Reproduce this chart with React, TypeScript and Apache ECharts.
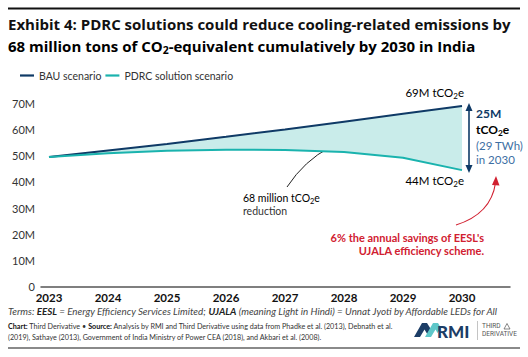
import React, { useEffect, useRef } from "react";
import * as echarts from "echarts";

const years = [2023, 2024, 2025, 2026, 2027, 2028, 2029, 2030];
const bauValues = [49.5, 52, 54.5, 57.2, 60, 63, 66, 69];
const pdrcValues = [49.5, 50.9, 51.9, 52.3, 52.2, 51.4, 49.2, 44.5];
const yTicks = [0, 10, 20, 30, 40, 50, 60, 70];
const seriesNames = ["BAU scenario", "PDRC solution scenario"];

const NAVY = "#0f3a66";
const TEAL = "#1ab3ae";
const FILL = "#c9ecea";
const RED = "#d12030";
const BODY = "Lato, 'Noto Sans', sans-serif";
const TITLE = "'Open Sans', Lato, sans-serif";

function co2Rich(size: number, color: string, weight: string, family: string = BODY) {
  return {
    n: { fontSize: size, fontFamily: family, color, fontWeight: weight, lineHeight: size + 4 },
    s: {
      fontSize: size * 0.7,
      fontFamily: family,
      color,
      fontWeight: weight,
      lineHeight: size * 0.7,
      verticalAlign: "bottom",
    },
  };
}

export default function App() {
  const ref = useRef<HTMLDivElement>(null);
  useEffect(() => {
    if (!ref.current) return;
    const chart = echarts.init(ref.current, null, { renderer: "svg" });
    const bau = years.map((y, i) => [y, bauValues[i]]);
    const pdrc = years.map((y, i) => [y, pdrcValues[i]]);
    const band = years.map((y, i) => [y, bauValues[i], pdrcValues[i]]);

    const graphic: any[] = [
      { type: "line", shape: { x1: 8, y1: 8.5, x2: 520, y2: 8.5 }, style: { stroke: "#111", lineWidth: 2 } },
      {
        type: "text",
        x: 8,
        y: 24,
        style: {
          text: "Exhibit 4: PDRC solutions could reduce cooling-related emissions by",
          fontSize: 15,
          fontWeight: "bold",
          fontFamily: TITLE,
          fill: "#111",
          verticalAlign: "middle",
        },
      },
      {
        type: "text",
        x: 8,
        y: 46,
        style: {
          text: "{n|68 million tons of CO}{s|2}{n|-equivalent cumulatively by 2030 in India}",
          verticalAlign: "middle",
          rich: co2Rich(15, "#111", "bold", TITLE),
        },
      },
      {
        type: "text",
        x: 464,
        y: 92,
        style: { text: "{n|69M tCO}{s|2}{n|e}", align: "right", verticalAlign: "middle", rich: co2Rich(11.5, "#222", "normal") },
      },
      {
        type: "text",
        x: 464,
        y: 180,
        style: { text: "{n|44M tCO}{s|2}{n|e}", align: "right", verticalAlign: "middle", rich: co2Rich(11.5, "#222", "normal") },
      },
      { type: "line", shape: { x1: 469, y1: 109, x2: 469, y2: 167 }, style: { stroke: NAVY, lineWidth: 1.6 } },
      { type: "polygon", shape: { points: [[469, 103], [465.5, 111], [472.5, 111]] }, style: { fill: NAVY } },
      { type: "polygon", shape: { points: [[469, 173], [465.5, 165], [472.5, 165]] }, style: { fill: NAVY } },
      {
        type: "text",
        x: 476,
        y: 113,
        style: { text: "25M", fontSize: 12, fontWeight: "bold", fontFamily: BODY, fill: NAVY, verticalAlign: "middle" },
      },
      {
        type: "text",
        x: 476,
        y: 129,
        style: { text: "{n|tCO}{s|2}{n|e}", verticalAlign: "middle", rich: co2Rich(12, NAVY, "bold") },
      },
      {
        type: "text",
        x: 476,
        y: 145,
        style: { text: "(29 TWh)", fontSize: 11.5, fontFamily: BODY, fill: "#3d6fa3", verticalAlign: "middle" },
      },
      {
        type: "text",
        x: 476,
        y: 159,
        style: { text: "in 2030", fontSize: 11.5, fontFamily: BODY, fill: "#3d6fa3", verticalAlign: "middle" },
      },
      {
        type: "bezierCurve",
        shape: { x1: 287, y1: 187, cpx1: 322, cpy1: 134, x2: 389, y2: 134 },
        style: { stroke: "#222", lineWidth: 1, fill: null },
      },
      {
        type: "text",
        x: 243,
        y: 198,
        style: { text: "{n|68 million tCO}{s|2}{n|e}", verticalAlign: "middle", rich: co2Rich(10.5, "#333", "normal") },
      },
      {
        type: "text",
        x: 243,
        y: 211,
        style: { text: "reduction", fontSize: 10.5, fontFamily: BODY, fill: "#333", verticalAlign: "middle" },
      },
      {
        type: "bezierCurve",
        shape: { x1: 456, y1: 225, cpx1: 491, cpy1: 214, x2: 495.5, y2: 183 },
        style: { stroke: RED, lineWidth: 1.1, fill: null },
      },
      { type: "polygon", shape: { points: [[496, 176], [492, 185], [499.5, 185.5]] }, style: { fill: RED } },
      {
        type: "text",
        x: 484,
        y: 237,
        style: { text: "6% the annual savings of EESL's", align: "right", fontSize: 11, fontWeight: "bold", fontFamily: BODY, fill: RED, verticalAlign: "middle" },
      },
      {
        type: "text",
        x: 484,
        y: 250.5,
        style: { text: "UJALA efficiency scheme.", align: "right", fontSize: 11, fontWeight: "bold", fontFamily: BODY, fill: RED, verticalAlign: "middle" },
      },
      {
        type: "text",
        x: 8,
        y: 311,
        style: {
          text: "{i|Terms: }{b|EESL}{i| = Energy Efficiency Services Limited; }{b|UJALA}{i| (meaning Light in Hindi) = Unnat Jyoti by Affordable LEDs for All}",
          verticalAlign: "middle",
          rich: {
            i: { fontSize: 9.8, fontStyle: "italic", fontFamily: BODY, fill: "#444" },
            b: { fontSize: 9.8, fontStyle: "italic", fontWeight: "bold", fontFamily: BODY, fill: "#222" },
          },
        },
      },
      {
        type: "text",
        x: 8,
        y: 326,
        style: {
          text: "{b|Chart:}{r| Third Derivative • }{b|Source:}{r| Analysis by RMI and Third Derivative using data from Phadke et al. (2013), Debnath et al.}",
          verticalAlign: "middle",
          rich: {
            r: { fontSize: 7.2, fontFamily: BODY, fill: "#333" },
            b: { fontSize: 7.2, fontWeight: "bold", fontFamily: BODY, fill: "#111" },
          },
        },
      },
      {
        type: "text",
        x: 8,
        y: 337,
        style: {
          text: "(2019), Sathaye (2013), Government of India Ministry of Power CEA (2018), and Akbari et al. (2008).",
          fontSize: 7.2,
          fontFamily: BODY,
          fill: "#333",
          verticalAlign: "middle",
        },
      },
      { type: "line", shape: { x1: 8, y1: 348, x2: 520, y2: 348 }, style: { stroke: "#8a8a8a", lineWidth: 2 } },
      {
        type: "polygon",
        shape: { points: [[414, 337], [422, 323], [427, 323], [432, 331], [429, 337], [424.5, 329.5], [420, 337]] },
        style: { fill: "#1c3d66" },
      },
      {
        type: "polygon",
        shape: { points: [[425, 337], [433, 323], [438, 323], [441, 328], [437.5, 333], [435.5, 329.5], [431, 337]] },
        style: { fill: "#5ec7c9" },
      },
      {
        type: "text",
        x: 437,
        y: 331,
        style: { text: "RMI", fontSize: 17, fontWeight: 900, fontFamily: "Lato, sans-serif", fill: "#1c3d66", verticalAlign: "middle" },
      },
      { type: "line", shape: { x1: 477.5, y1: 321, x2: 477.5, y2: 340 }, style: { stroke: "#b5b5b5", lineWidth: 0.8 } },
      {
        type: "text",
        x: 482,
        y: 326,
        style: { text: "THIRD", fontSize: 6.5, fontFamily: "Roboto, sans-serif", fill: "#555", verticalAlign: "middle" },
      },
      { type: "polygon", shape: { points: [[504, 329], [507, 323.5], [510, 329]] }, style: { fill: "none", stroke: "#555", lineWidth: 0.7 } },
      {
        type: "text",
        x: 482,
        y: 334,
        style: { text: "DERIVATIVE", fontSize: 6.5, fontFamily: "Roboto, sans-serif", fill: "#555", verticalAlign: "middle" },
      },
    ];

    chart.setOption({
      animation: false,
      textStyle: { fontFamily: BODY },
      grid: { left: 41, right: 18, top: 103.3, bottom: 70.3, containLabel: false },
      legend: {
        data: seriesNames,
        left: 15,
        top: 65,
        icon: "rect",
        itemWidth: 14,
        itemHeight: 2.2,
        itemGap: 4,
        textStyle: { fontSize: 10.5, color: "#333", fontFamily: BODY },
      },
      xAxis: {
        type: "value",
        min: 2022.8644,
        max: 2030.8136,
        splitLine: { show: false },
        axisTick: { show: false },
        axisLine: { show: true, lineStyle: { color: "#555", width: 1.5 } },
        axisLabel: {
          customValues: years,
          formatter: (v: number) => String(v),
          fontSize: 11.5,
          fontWeight: "bold",
          color: "#111",
          margin: 5,
          fontFamily: BODY,
        },
      },
      yAxis: {
        type: "value",
        min: 0,
        max: 70,
        interval: 10,
        splitLine: { show: false },
        axisLine: { show: false },
        axisTick: { show: false },
        axisLabel: {
          customValues: yTicks,
          formatter: (v: number) => (v === 0 ? "0" : v + "M"),
          fontSize: 11,
          color: "#333",
          margin: 6,
          fontFamily: BODY,
        },
      },
      series: [
        {
          name: "reduction band",
          type: "custom",
          data: band,
          encode: { x: 0, y: [1, 2] },
          silent: true,
          renderItem: (params: any, api: any) => {
            if (params.dataIndex !== 0) return null;
            const top = band.map((d) => api.coord([d[0], d[1]]));
            const bottom = band.map((d) => api.coord([d[0], d[2]])).reverse();
            return {
              type: "polygon",
              shape: { points: top.concat(bottom) },
              style: { fill: FILL },
            };
          },
        },
        {
          name: seriesNames[0],
          type: "line",
          data: bau,
          symbol: "none",
          color: NAVY,
          lineStyle: { color: NAVY, width: 2 },
        },
        {
          name: seriesNames[1],
          type: "line",
          data: pdrc,
          symbol: "none",
          color: TEAL,
          lineStyle: { color: TEAL, width: 2 },
        },
      ],
      graphic,
    });
    return () => chart.dispose();
  }, []);
  return <div ref={ref} style={{ width: 528, height: 357, position: "absolute", left: 0, top: 0 }} />;
}
